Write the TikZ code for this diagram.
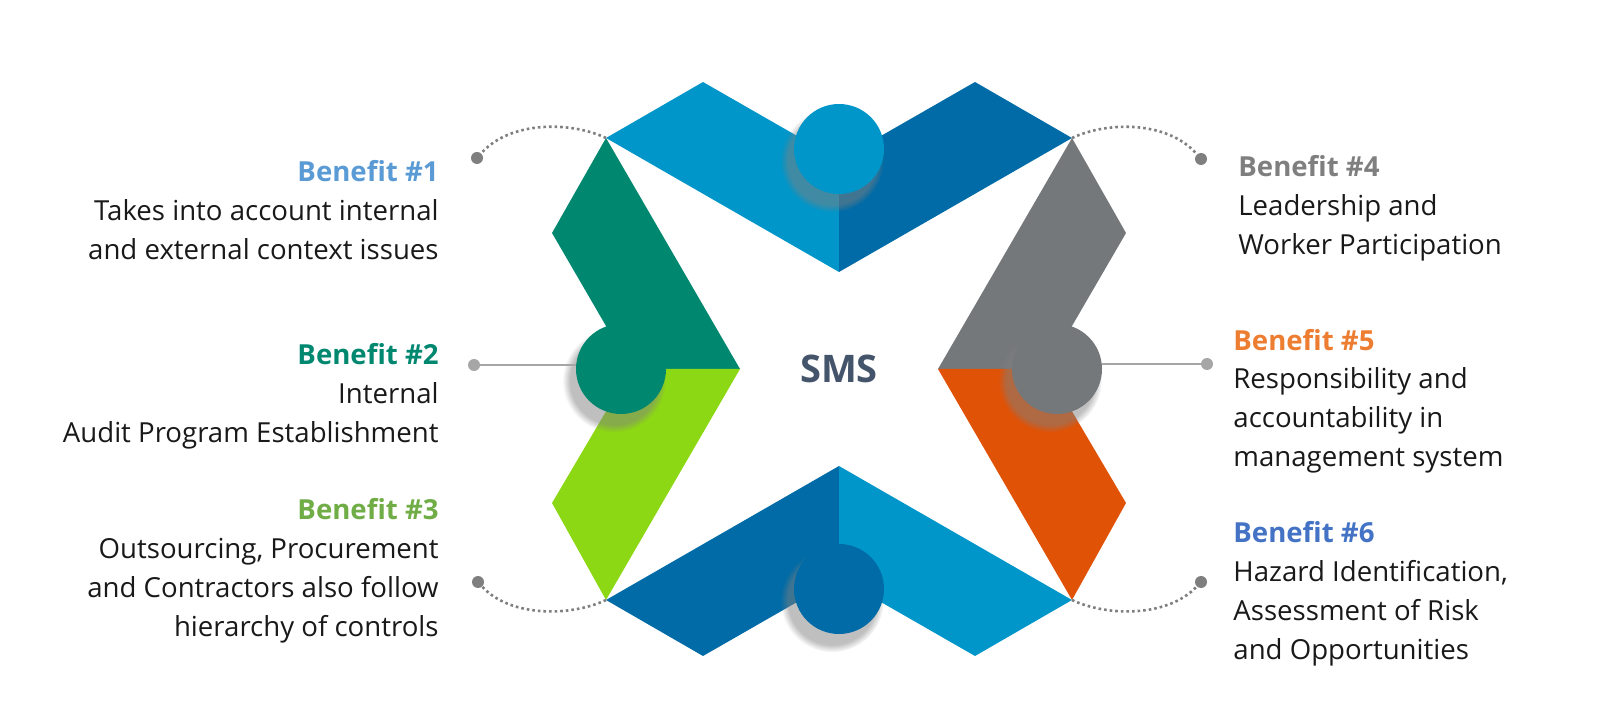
\documentclass[tikz,border=0pt]{standalone}
\usepackage{fontspec}
\setmainfont{Open Sans}
\usepackage{xcolor}
\usetikzlibrary{shadows,calc}

\definecolor{smslight}{HTML}{0096C9}
\definecolor{smsdark}{HTML}{006BA6}
\definecolor{smsteal}{HTML}{00876F}
\definecolor{smslime}{HTML}{8DD814}
\definecolor{smsgray}{HTML}{75787B}
\definecolor{smsorange}{HTML}{E05206}
\definecolor{smsslate}{HTML}{44546A}
\definecolor{dotgray}{HTML}{7F7F7F}
\definecolor{linegray}{HTML}{A6A6A6}
\definecolor{bonecol}{HTML}{5B9BD5}
\definecolor{btwocol}{HTML}{00876F}
\definecolor{bthreecol}{HTML}{70AD47}
\definecolor{bfourcol}{HTML}{7F7F7F}
\definecolor{bfivecol}{HTML}{ED7D31}
\definecolor{bsixcol}{HTML}{4472C4}

\tikzset{
  hub/.style={circle,inner sep=0pt,minimum size=45pt,
    circular drop shadow={shadow xshift=-3pt,shadow yshift=-5pt,shadow scale=1.15,opacity=.5}},
  bullet/.style={circle,fill=dotgray,inner sep=0pt,minimum size=6pt},
  curvy/.style={dotgray,line width=1.3pt,dash pattern=on 1.3pt off 1.5pt},
  flatline/.style={linegray,line width=.6pt},
  benefit/.style={font=\fontsize{13.8}{19.5}\selectfont,text=black!90,inner sep=0pt},
}

\begin{document}
\begin{tikzpicture}[x=0.5pt,y=-0.5pt]
\useasboundingbox (0,0) rectangle (1600,726);

% outer tips of the cross
\coordinate (tl) at (606,138);
\coordinate (tr) at (1072,138);
\coordinate (bl) at (606,600);
\coordinate (br) at (1072,600);

% top chevron
\fill[smslight] (tl) -- (703,82) -- (839,160) -- (839,272) -- cycle;
\fill[smsdark] (839,160) -- (975,82) -- (tr) -- (839,272) -- cycle;
% left chevron
\fill[smsteal] (tl) -- (740,369) -- (631,369) -- (552,233) -- cycle;
\fill[smslime] (631,369) -- (740,369) -- (bl) -- (552,503) -- cycle;
% right chevron
\fill[smsgray] (tr) -- (1126,233) -- (1047,369) -- (938,369) -- cycle;
\fill[smsorange] (938,369) -- (1047,369) -- (1126,503) -- (br) -- cycle;
% bottom chevron
\fill[smsdark] (bl) -- (839,466) -- (839,578) -- (703,656) -- cycle;
\fill[smslight] (839,466) -- (br) -- (975,656) -- (839,578) -- cycle;

% hubs
\node[hub,fill=smslight] (ctop) at (839,149) {};
\node[hub,fill=smsteal] (cleft) at (621,369) {};
\node[hub,fill=smsgray] (cright) at (1057,369) {};
\node[hub,fill=smsdark] (cbottom) at (839,589) {};

\node[font=\fontsize{19}{23}\selectfont\bfseries,text=smsslate] (sms) at (839,369) {SMS};

% end dots
\node[bullet] (d1) at (477,158) {};
\node[bullet,fill=linegray] (d2) at (474,365) {};
\node[bullet] (d3) at (478,582) {};
\node[bullet] (d4) at (1201,159) {};
\node[bullet,fill=linegray] (d5) at (1207,364) {};
\node[bullet] (d6) at (1201,582) {};

% connectors
\draw[curvy] (tl) .. controls (570,121) and (510,121) .. (d1);
\draw[curvy] (bl) .. controls (570,617) and (510,617) .. (d3);
\draw[curvy] (tr) .. controls (1108,121) and (1168,121) .. (d4);
\draw[curvy] (br) .. controls (1108,617) and (1168,617) .. (d6);
\draw[flatline] (d2) -- (d2 -| cleft.west);
\draw[flatline] (d5) -- (d5 -| cright.east);

% benefits (placed at the baseline of their last line)
\node[benefit,anchor=base east,align=right] (b1) at (439,260)
  {{\bfseries\color{bonecol}Benefit \#1}\\Takes into account internal\\and external context issues};
\node[benefit,anchor=base east,align=right] (b2) at (439,443)
  {{\bfseries\color{btwocol}Benefit \#2}\\Internal\\Audit Program Establishment};
\node[benefit,anchor=base east,align=right] (b3) at (439,636)
  {{\bfseries\color{bthreecol}Benefit \#3}\\Outsourcing, Procurement\\and Contractors also follow\\hierarchy of controls};
\node[benefit,anchor=base west,align=left] (b4) at (1238,255)
  {{\bfseries\color{bfourcol}Benefit \#4}\\Leadership and\\Worker Participation};
\node[benefit,anchor=base west,align=left] (b5) at (1233,467)
  {{\bfseries\color{bfivecol}Benefit \#5}\\Responsibility and\\accountability in\\management system};
\node[benefit,anchor=base west,align=left] (b6) at (1233,659)
  {{\bfseries\color{bsixcol}Benefit \#6}\\Hazard Identification,\\Assessment of Risk\\and Opportunities};
\end{tikzpicture}
\end{document}
